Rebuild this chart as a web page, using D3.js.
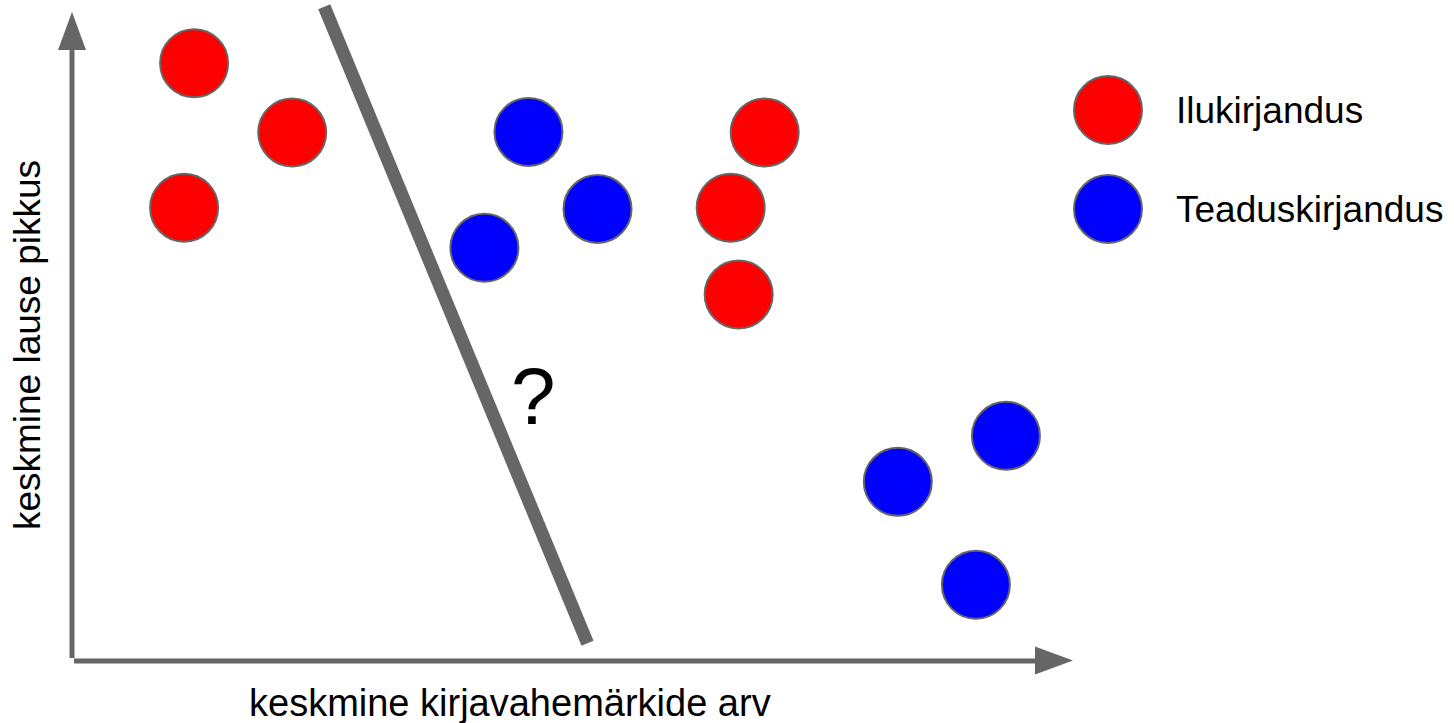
<!DOCTYPE html>
<html lang="et">
<head>
    <meta charset="UTF-8">
    <title>Ilukirjandus vs Teaduskirjandus</title>
    <script src="https://cdn.jsdelivr.net/npm/d3@7"></script>
    <style>
        body { margin: 0; background: #fff; }
        svg { display: block; }
        text { font-family: "Liberation Sans", Arial, sans-serif; fill: #000; }
    </style>
</head>
<body>
    <div id="chart-space"></div>

    <script>
        // points (arbitrary units)
        var categories = ["Ilukirjandus", "Teaduskirjandus"];
        var colors = ["#ff0000", "#0000ff"];

        var redX = [12.2, 22.0, 11.2, 69.2, 65.8, 66.6];
        var redY = [92.1, 81.4, 69.8, 81.4, 69.8, 56.4];
        var blueX = [45.6, 52.5, 41.2, 93.3, 82.5, 90.3];
        var blueY = [81.5, 69.6, 63.6, 34.6, 27.5, 11.6];

        // the dividing line with the question mark
        var sepX = [25.2, 51.5];
        var sepY = [100.8, 2.6];

        var xLabel = "keskmine kirjavahemärkide arv";
        var yLabel = "keskmine lause pikkus";

        var width = 1454;
        var height = 723;

        var svg = d3.select("#chart-space")
            .append("svg")
            .attr("width", width)
            .attr("height", height);

        var xScale = d3.scaleLinear().domain([0, 100]).range([72, 1073]);
        var yScale = d3.scaleLinear().domain([0, 100]).range([660, 12]);

        var axisColor = "#666666";
        var r = 34;

        // axes with arrow heads
        svg.append("line")
            .attr("x1", xScale(0)).attr("y1", yScale(0) - 2)
            .attr("x2", xScale(0)).attr("y2", yScale(100) + 36)
            .attr("stroke", axisColor).attr("stroke-width", 5);
        svg.append("line")
            .attr("x1", xScale(0) + 2).attr("y1", yScale(0) + 1)
            .attr("x2", xScale(100) - 36).attr("y2", yScale(0) + 1)
            .attr("stroke", axisColor).attr("stroke-width", 5);

        svg.append("path")
            .attr("d", d3.line()([
                [xScale(0), yScale(100)],
                [xScale(0) - 14, yScale(100) + 38],
                [xScale(0) + 14, yScale(100) + 38]
            ]) + "Z")
            .attr("fill", axisColor);
        svg.append("path")
            .attr("d", d3.line()([
                [xScale(100), yScale(0) + 0.5],
                [xScale(100) - 38, yScale(0) - 13.5],
                [xScale(100) - 38, yScale(0) + 14.5]
            ]) + "Z")
            .attr("fill", axisColor);

        // separator line
        svg.append("line")
            .attr("x1", xScale(sepX[0])).attr("y1", yScale(sepY[0]))
            .attr("x2", xScale(sepX[1])).attr("y2", yScale(sepY[1]))
            .attr("stroke", axisColor).attr("stroke-width", 13);

        svg.append("text")
            .attr("x", 511).attr("y", 424)
            .style("font-size", "80px")
            .text("?");

        // points
        var series = [
            { name: categories[0], xs: redX, ys: redY, color: colors[0] },
            { name: categories[1], xs: blueX, ys: blueY, color: colors[1] }
        ];

        series.forEach(function(s) {
            svg.append("g")
                .selectAll("circle")
                .data(s.xs.map(function(v, i) { return [v, s.ys[i]]; }))
                .join("circle")
                .attr("cx", function(d) { return xScale(d[0]); })
                .attr("cy", function(d) { return yScale(d[1]); })
                .attr("r", r)
                .attr("fill", s.color)
                .attr("stroke", axisColor)
                .attr("stroke-width", 2);
        });

        // legend
        var legend = svg.append("g").attr("transform", "translate(1108,110)");
        series.forEach(function(s, i) {
            legend.append("circle")
                .attr("cx", 0).attr("cy", i * 99)
                .attr("r", r)
                .attr("fill", s.color)
                .attr("stroke", axisColor)
                .attr("stroke-width", 2);
            legend.append("text")
                .attr("x", 68).attr("y", i * 99 + 13)
                .style("font-size", "37px")
                .text(s.name);
        });

        // axis titles
        svg.append("text")
            .attr("x", 249).attr("y", 716)
            .style("font-size", "38px")
            .text(xLabel);

        svg.append("text")
            .attr("transform", "translate(40,345) rotate(-90)")
            .attr("text-anchor", "middle")
            .style("font-size", "37px")
            .text(yLabel);
    </script>
</body>
</html>
